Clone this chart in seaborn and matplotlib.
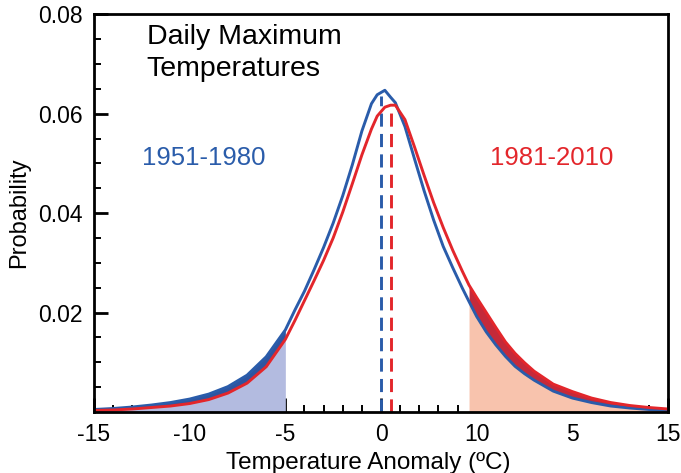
import numpy as np
import pandas as pd
import matplotlib
matplotlib.use("Agg")
import matplotlib.pyplot as plt
from matplotlib.ticker import MultipleLocator
import seaborn as sns

anomaly = [-15, -14, -13, -12, -11, -10, -9, -8, -7, -6, -5, -4.5, -4, -3.5, -3, -2.5,
           -2, -1.5, -1, -0.5, -0.2, 0.2, 0.5, 0.75, 1.25, 1.75, 2.25, 2.75, 3.25, 3.75,
           4.25, 4.6, 5, 5.5, 6, 6.5, 7, 7.5, 8, 9, 10, 11, 12, 13, 14, 15]
prob_1951_1980 = [0.0005, 0.0007, 0.0010, 0.0014, 0.0019, 0.0026, 0.0036, 0.0051, 0.0074,
                  0.0111, 0.0165, 0.0205, 0.0243, 0.0286, 0.0331, 0.0380, 0.0435, 0.0497,
                  0.0565, 0.0620, 0.0638, 0.0647, 0.0633, 0.0622, 0.0574, 0.0509, 0.0445,
                  0.0386, 0.0333, 0.0290, 0.0249, 0.0222, 0.0192, 0.0161, 0.0135, 0.0112,
                  0.0092, 0.0077, 0.0064, 0.0042, 0.0028, 0.0019, 0.0012, 0.0008, 0.0005,
                  0.0003]
prob_1981_2010 = [0.0003, 0.0004, 0.0006, 0.0009, 0.0012, 0.0017, 0.0025, 0.0038, 0.0058,
                  0.0091, 0.0146, 0.0184, 0.0224, 0.0264, 0.0305, 0.0350, 0.0402, 0.0459,
                  0.0517, 0.0569, 0.0595, 0.0613, 0.0617, 0.0617, 0.0588, 0.0533, 0.0476,
                  0.0421, 0.0371, 0.0325, 0.0283, 0.0255, 0.0230, 0.0200, 0.0170, 0.0141,
                  0.0118, 0.0099, 0.0082, 0.0056, 0.0041, 0.0028, 0.0019, 0.0013, 0.0009,
                  0.0006]
periods = ["1951-1980", "1981-2010"]
period_means = [0.0, 0.5]
cold_limit = -5
hot_limit = 4.6

x_ticks = [-15, -10, -5, 0, 5, 10, 15]
x_tick_labels = ["-15", "-10", "-5", "0", "10", "5", "15"]
y_ticks = [0.02, 0.04, 0.06, 0.08]
y_tick_labels = ["0.02", "0.04", "0.06", "0.08"]

BLUE = "#2a5caa"
RED = "#e3262b"

sns.set_style("white")
plt.rcParams["font.family"] = ["Liberation Sans", "DejaVu Sans"]
plt.rcParams["text.color"] = "black"
plt.rcParams["axes.labelcolor"] = "black"

df = pd.DataFrame({
    "anomaly": anomaly * 2,
    "prob": prob_1951_1980 + prob_1981_2010,
    "period": [periods[0]] * len(anomaly) + [periods[1]] * len(anomaly),
})

fig = plt.figure(figsize=(6.81, 4.73), dpi=100)
ax = fig.add_axes([0.138, 0.129, 0.843, 0.841])

x = np.array(anomaly)
b = np.array(prob_1951_1980)
r = np.array(prob_1981_2010)

# shaded tails
cold = x <= cold_limit
ax.fill_between(x[cold], 0, r[cold], color="#b3bbe0", lw=0)
ax.fill_between(x[cold], r[cold], b[cold], color="#2e55a0", lw=0)
hot = x >= hot_limit
ax.fill_between(x[hot], 0, b[hot], color="#f8c3ad", lw=0)
ax.fill_between(x[hot], b[hot], r[hot], color="#c42a3a", lw=0)

# mean lines
for m, p, c in zip(period_means, [b, r], [BLUE, RED]):
    ax.vlines(m, 0, np.interp(m, x, p) - 0.0008, colors=c, lw=2.1,
              linestyles=(0, (4.5, 2.5)))

sns.lineplot(data=df, x="anomaly", y="prob", hue="period", palette=[BLUE, RED],
             lw=2.1, legend=False, ax=ax, sort=False)

ax.set_xlim(-15, 15)
ax.set_ylim(0, 0.08)
ax.set_xticks(x_ticks)
ax.set_xticklabels(x_tick_labels)
ax.set_yticks(y_ticks)
ax.set_yticklabels(y_tick_labels)
ax.xaxis.set_minor_locator(MultipleLocator(1))
ax.yaxis.set_minor_locator(MultipleLocator(0.005))
ax.tick_params(which="major", direction="in", length=10, width=2, labelsize=16.5,
               colors="black", pad=8)
ax.tick_params(which="minor", direction="in", length=5, width=1.4, colors="black")
ax.tick_params(axis="y", which="both", left=True, right=False)
ax.tick_params(axis="x", which="both", bottom=True, top=False)
for s in ax.spines.values():
    s.set_color("black")
    s.set_linewidth(2)

ax.set_xlabel("Temperature Anomaly (ºC)", fontsize=17.5)
ax.xaxis.set_label_coords(0.478, -0.1)
ax.set_ylabel("Probability", fontsize=17, labelpad=6)

ax.text(0.092, 0.975, "Daily Maximum\nTemperatures", transform=ax.transAxes,
        fontsize=20.5, va="top", ha="left", linespacing=1.3)
ax.text(0.084, 0.638, periods[0], transform=ax.transAxes, fontsize=18.5,
        color=BLUE, va="center", ha="left")
ax.text(0.69, 0.638, periods[1], transform=ax.transAxes, fontsize=18.5,
        color=RED, va="center", ha="left")

fig.savefig("out.png", dpi=100)
